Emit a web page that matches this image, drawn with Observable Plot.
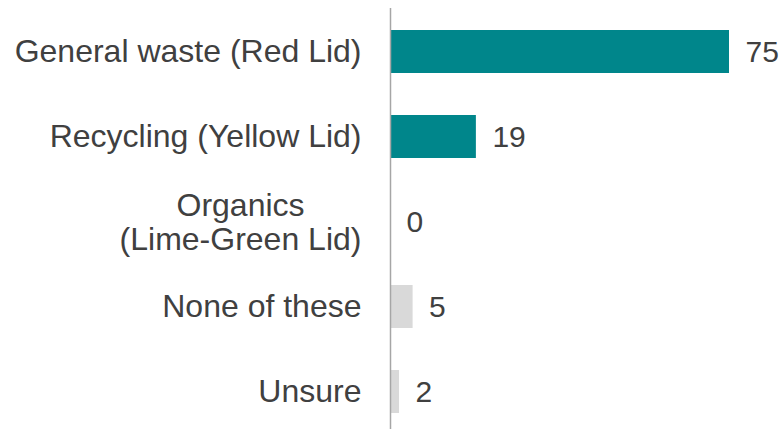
<!DOCTYPE html>
<html>
<head>
<meta charset="utf-8">
<script src="https://cdn.jsdelivr.net/npm/d3@7"></script>
<script src="https://cdn.jsdelivr.net/npm/@observablehq/plot@0.6"></script>
<style>
  html, body { margin: 0; padding: 0; background: #fff; }
  #chart svg { display: block; }
</style>
</head>
<body>
<div id="chart"></div>
<script>
const categories = ["General waste (Red Lid)", "Recycling (Yellow Lid)", "Organics\n(Lime-Green Lid)", "None of these", "Unsure"];
const values = [75, 19, 0, 5, 2];
const groups = ["bin", "bin", "bin", "other", "other"];

const data = categories.map((c, i) => ({category: c, value: values[i], group: groups[i]}));
const singleLine = data.filter(d => !d.category.includes("\n"));
const multiLine = data.filter(d => d.category.includes("\n"));

const font = 'Arial, "Liberation Sans", sans-serif';
const textColor = "#404040";

const chart = Plot.plot({
  width: 782,
  height: 429,
  marginLeft: 390,
  marginRight: 53,
  marginTop: 8,
  marginBottom: 0,
  style: {fontFamily: font, background: "#fff"},
  x: {domain: [0, 75], axis: null},
  y: {domain: categories, range: [8, 434], paddingInner: 0.5, paddingOuter: 0.25, axis: null},
  color: {domain: ["bin", "other"], range: ["#00868B", "#D9D9D9"]},
  marks: [
    Plot.barX(data, {y: "category", x: "value", fill: "group"}),
    Plot.ruleX([0], {stroke: "#A6A6A6", strokeWidth: 1.5}),
    Plot.text(data, {y: "category", x: "value", text: d => String(d.value), textAnchor: "start", dx: 16, fontSize: 30, fontFamily: font, fill: textColor}),
    Plot.text(singleLine, {y: "category", text: "category", frameAnchor: "left", textAnchor: "end", dx: -29, fontSize: 32, fontFamily: font, fill: textColor}),
    Plot.text(multiLine, {y: "category", text: "category", frameAnchor: "left", textAnchor: "middle", dx: -150, lineHeight: 1.05, fontSize: 32, fontFamily: font, fill: textColor})
  ]
});
document.getElementById("chart").appendChild(chart);
</script>
</body>
</html>
